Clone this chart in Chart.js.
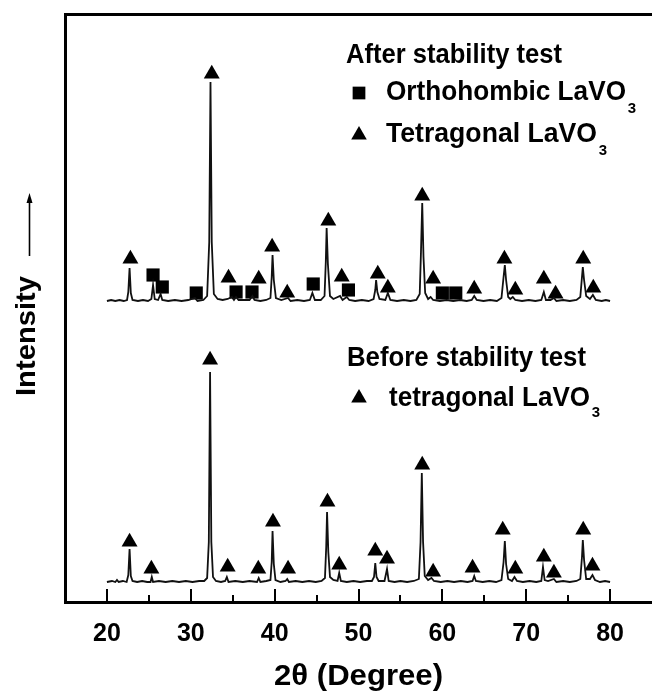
<!DOCTYPE html>
<html>
<head>
<meta charset="utf-8">
<script src="https://cdn.jsdelivr.net/npm/chart.js@4/dist/chart.umd.min.js"></script>
<style>
  html, body { margin: 0; padding: 0; background: #fff; }
  #wrap { width: 652px; height: 695px; }
</style>
</head>
<body>
<div id="wrap"><canvas id="xrd" width="652" height="695"></canvas></div>
<script>
  // 2-theta tick labels and minor tick positions
  const xTickLabels = [20, 30, 40, 50, 60, 70, 80];
  const xMinorTicks = [25, 35, 45, 55, 65, 75];

  // Intensity is in arbitrary units (offset patterns)
  const beforeTrace = [
    [20.0,20],[20.6,21],[21.0,20],[21.2,22],[21.4,20],[21.9,21],[22.35,20],[22.55,27],[22.7,53],[22.85,26],
    [23.05,21],[23.6,20],[24.2,21],[24.8,20],[25.2,20],[25.35,25],[25.5,20],[26.2,21],[27.0,20],[27.8,21],
    [28.6,20],[29.4,21],[30.2,20],[31.0,21],[31.6,21],[31.95,24],[32.15,60],[32.3,230],[32.45,60],[32.65,25],
    [33.0,21],[33.6,20],[34.1,21],[34.3,25],[34.5,20],[35.3,21],[36.2,20],[37.0,21],[37.9,20],[38.1,24],
    [38.3,20],[39.0,21],[39.5,22],[39.65,40],[39.75,71],[39.9,38],[40.1,22],[40.7,20],[41.3,21],[41.5,23],
    [41.7,20],[42.5,21],[43.3,20],[44.1,21],[44.9,20],[45.6,21],[46.0,24],[46.15,55],[46.25,90],[46.4,50],
    [46.6,25],[47.0,22],[47.5,21],[47.7,29],[47.9,21],[48.6,20],[49.4,21],[50.2,20],[51.0,21],[51.6,21],
    [51.85,25],[52.0,39],[52.15,25],[52.4,21],[53.1,21],[53.4,33],[53.6,21],[54.3,20],[55.0,21],[55.8,20],
    [56.6,21],[57.2,23],[57.4,60],[57.55,129],[57.7,60],[57.9,26],[58.3,22],[58.7,24],[59.0,21],[59.8,20],
    [60.6,21],[61.4,20],[62.2,21],[63.0,20],[63.6,21],[63.8,26],[64.0,21],[64.8,20],[65.6,21],[66.4,20],
    [67.05,22],[67.3,40],[67.45,61],[67.6,38],[67.85,23],[68.3,21],[68.6,25],[68.9,21],[69.6,20],[70.4,21],
    [71.2,20],[71.8,21],[72.0,35],[72.2,22],[72.6,21],[73.3,23],[73.6,20],[74.4,21],[75.2,20],[76.0,21],
    [76.45,23],[76.65,45],[76.75,62],[76.9,42],[77.15,23],[77.6,23],[77.9,27],[78.2,22],[78.8,20],[79.4,21],
    [80.0,20]
  ];

  const afterTrace = [
    [20.0,301],[20.5,302],[21.0,301],[21.5,302],[22.0,301],[22.4,302],[22.55,310],[22.7,334],[22.85,309],[23.05,302],
    [23.7,301],[24.3,302],[24.9,301],[25.3,303],[25.5,317],[25.7,303],[26.1,302],[26.4,308],[26.6,302],[27.3,301],
    [28.1,302],[28.9,301],[29.7,302],[30.5,304],[30.8,301],[31.5,302],[31.95,306],[32.2,360],[32.35,520],[32.5,360],
    [32.75,308],[33.2,303],[33.8,302],[34.4,303],[34.9,305],[35.15,302],[35.4,305],[35.7,302],[36.4,302],[37.0,302],
    [37.35,306],[37.6,302],[38.3,301],[39.0,302],[39.5,304],[39.65,325],[39.75,347],[39.9,322],[40.15,304],[40.8,302],
    [41.6,304],[41.9,301],[42.7,302],[43.5,301],[44.2,302],[44.5,309],[44.8,302],[45.5,302],[45.95,306],[46.1,340],
    [46.2,374],[46.35,338],[46.6,306],[47.0,303],[47.8,306],[48.1,302],[48.6,305],[48.9,302],[49.6,301],[50.4,302],
    [51.2,301],[51.8,303],[52.0,312],[52.1,322],[52.25,310],[52.5,303],[53.2,302],[53.5,309],[53.8,302],[54.6,301],
    [55.4,302],[56.2,301],[56.9,302],[57.3,308],[57.45,350],[57.6,399],[57.75,345],[57.95,309],[58.3,303],[58.6,305],
    [58.9,302],[59.7,301],[60.5,302],[61.3,301],[62.1,302],[62.9,301],[63.5,302],[63.8,306],[64.1,302],[64.9,301],
    [65.7,302],[66.5,301],[67.05,304],[67.3,325],[67.45,337],[67.6,322],[67.85,305],[68.1,303],[68.4,305],[68.7,302],
    [69.5,301],[70.3,302],[71.1,301],[71.8,302],[72.1,310],[72.35,302],[72.9,302],[73.3,304],[73.6,301],[74.4,302],
    [75.2,301],[76.0,302],[76.45,305],[76.65,325],[76.75,335],[76.9,322],[77.15,306],[77.6,303],[77.95,307],[78.3,302],
    [79.0,301],[79.5,302],[80.0,301]
  ];

  // phase markers above the peaks
  const beforeTriX = [22.7, 25.3, 32.3, 34.4, 38.05, 39.8, 41.6, 46.3, 47.7, 52.0, 53.4, 57.6, 58.9, 63.6, 67.2, 68.7, 72.1, 73.3, 76.8, 77.9];
  const beforeTriY = [60, 33, 242, 35, 33, 80, 33, 100, 37, 51, 43, 137, 30, 34, 72, 33, 45, 29, 72, 36];
  const afterTriX = [22.8, 32.5, 34.5, 38.1, 39.7, 41.5, 46.4, 48.0, 52.3, 53.5, 57.6, 58.9, 63.8, 67.4, 68.7, 72.1, 73.5, 76.8, 78.0];
  const afterTriY = [343, 528, 324, 323, 355, 309, 381, 325, 328, 314, 406, 323, 313, 343, 312, 323, 308, 343, 314];
  const afterSqX = [25.5, 26.6, 30.65, 35.4, 37.3, 44.6, 48.8, 60.0, 61.6];
  const afterSqY = [327, 315, 309, 310, 310, 318, 312, 309, 309];

  const FONT = "'Liberation Sans', Arial, sans-serif";

  function toPoints(pairs) {
    return pairs.map((p) => ({x: p[0], y: p[1]}));
  }

  function zip(xs, ys) {
    return xs.map((x, i) => ({x: x, y: ys[i]}));
  }

  // draw bold text squeezed/stretched to a target width
  function fitText(ctx, text, left, cy, size, width) {
    ctx.save();
    ctx.font = `bold ${size}px ${FONT}`;
    ctx.textBaseline = "middle";
    ctx.textAlign = "left";
    const w = ctx.measureText(text).width;
    ctx.translate(left, cy);
    ctx.scale(width / w, 1);
    ctx.fillText(text, 0, 0);
    ctx.restore();
  }

  function sub(ctx, text, cx, cy) {
    ctx.save();
    ctx.font = `bold 15px ${FONT}`;
    ctx.textAlign = "center";
    ctx.textBaseline = "middle";
    ctx.fillText(text, cx, cy);
    ctx.restore();
  }

  const decorations = {
    id: "decorations",
    afterDatasetsDraw(chart) {
      const ctx = chart.ctx;
      const x = chart.scales.x;
      const bottom = chart.chartArea.bottom;
      ctx.save();
      ctx.strokeStyle = "#000";
      ctx.fillStyle = "#000";

      // inward tick marks on the bottom axis
      ctx.lineWidth = 2;
      xTickLabels.forEach((v) => {
        const px = Math.round(x.getPixelForValue(v));
        ctx.beginPath();
        ctx.moveTo(px, bottom);
        ctx.lineTo(px, bottom - 13);
        ctx.stroke();
      });
      xMinorTicks.forEach((v) => {
        const px = Math.round(x.getPixelForValue(v));
        ctx.beginPath();
        ctx.moveTo(px, bottom);
        ctx.lineTo(px, bottom - 7);
        ctx.stroke();
      });

      // legend blocks
      const H = Chart.helpers;
      fitText(ctx, "After stability test", 346, 55, 28, 216);
      H.drawPoint(ctx, {pointStyle: "rect", radius: 9, rotation: 0, borderWidth: 0}, 359, 93);
      fitText(ctx, "Orthohombic LaVO", 386, 92, 28, 240);
      sub(ctx, "3", 632, 109);
      H.drawPoint(ctx, {pointStyle: "triangle", radius: 9, rotation: 0, borderWidth: 0}, 359, 135);
      fitText(ctx, "Tetragonal LaVO", 386, 134, 28, 211);
      sub(ctx, "3", 603, 151);

      fitText(ctx, "Before stability test", 347, 358, 28, 239);
      H.drawPoint(ctx, {pointStyle: "triangle", radius: 9, rotation: 0, borderWidth: 0}, 359, 398);
      fitText(ctx, "tetragonal LaVO", 389, 398, 28, 201);
      sub(ctx, "3", 596, 413);

      // axis titles
      fitText(ctx, "2\u03b8 (Degree)", 274, 677, 29, 169);

      ctx.save();
      ctx.translate(27, 336);
      ctx.rotate(-Math.PI / 2);
      fitText(ctx, "Intensity", -60, 0, 28, 120);
      ctx.restore();

      // arrow next to the y title
      ctx.lineWidth = 1.6;
      ctx.beginPath();
      ctx.moveTo(29.5, 256);
      ctx.lineTo(29.5, 200);
      ctx.stroke();
      ctx.beginPath();
      ctx.moveTo(29.5, 193);
      ctx.lineTo(26.5, 203);
      ctx.lineTo(32.5, 203);
      ctx.closePath();
      ctx.fill();

      ctx.restore();
    },
  };

  new Chart(document.getElementById("xrd"), {
    type: "scatter",
    data: {
      datasets: [
        {
          label: "After stability test",
          data: toPoints(afterTrace),
          showLine: true,
          borderColor: "#111",
          borderWidth: 1.8,
          pointRadius: 0,
          tension: 0,
        },
        {
          label: "Before stability test",
          data: toPoints(beforeTrace),
          showLine: true,
          borderColor: "#111",
          borderWidth: 1.8,
          pointRadius: 0,
          tension: 0,
        },
        {
          label: "Orthohombic LaVO3 (after)",
          data: zip(afterSqX, afterSqY),
          pointStyle: "rect",
          pointRadius: 9.3,
          backgroundColor: "#000",
          borderWidth: 0,
        },
        {
          label: "Tetragonal LaVO3 (after)",
          data: zip(afterTriX, afterTriY),
          pointStyle: "triangle",
          pointRadius: 9.2,
          backgroundColor: "#000",
          borderWidth: 0,
        },
        {
          label: "tetragonal LaVO3 (before)",
          data: zip(beforeTriX, beforeTriY),
          pointStyle: "triangle",
          pointRadius: 9.2,
          backgroundColor: "#000",
          borderWidth: 0,
        },
      ],
    },
    options: {
      responsive: false,
      animation: false,
      devicePixelRatio: 1,
      layout: {padding: 0, autoPadding: false},
      plugins: {
        legend: {display: false},
        tooltip: {enabled: false},
      },
      scales: {
        x: {
          type: "linear",
          position: "bottom",
          min: 15,
          max: 85,
          grid: {display: false},
          border: {display: true, color: "#000", width: 3},
          ticks: {
            color: "#000",
            font: {family: FONT, size: 25, weight: "bold"},
            padding: 9,
            maxRotation: 0,
            autoSkip: false,
          },
          afterBuildTicks: (scale) => {
            scale.ticks = xTickLabels.map((v) => ({value: v}));
          },
          afterFit: (scale) => {
            scale.height = 93;
            scale.paddingLeft = 0;
            scale.paddingRight = 0;
          },
        },
        xTop: {
          type: "linear",
          position: "top",
          min: 15,
          max: 85,
          grid: {display: false},
          border: {display: true, color: "#000", width: 3},
          ticks: {display: false},
          afterFit: (scale) => {
            scale.height = 14;
            scale.paddingLeft = 0;
            scale.paddingRight = 0;
          },
        },
        y: {
          type: "linear",
          min: 0,
          max: 588,
          grid: {display: false},
          border: {display: true, color: "#000", width: 3},
          ticks: {display: false},
          afterFit: (scale) => {
            scale.width = 65;
            scale.paddingTop = 0;
            scale.paddingBottom = 0;
          },
        },
      },
    },
    plugins: [decorations],
  });
</script>
</body>
</html>
